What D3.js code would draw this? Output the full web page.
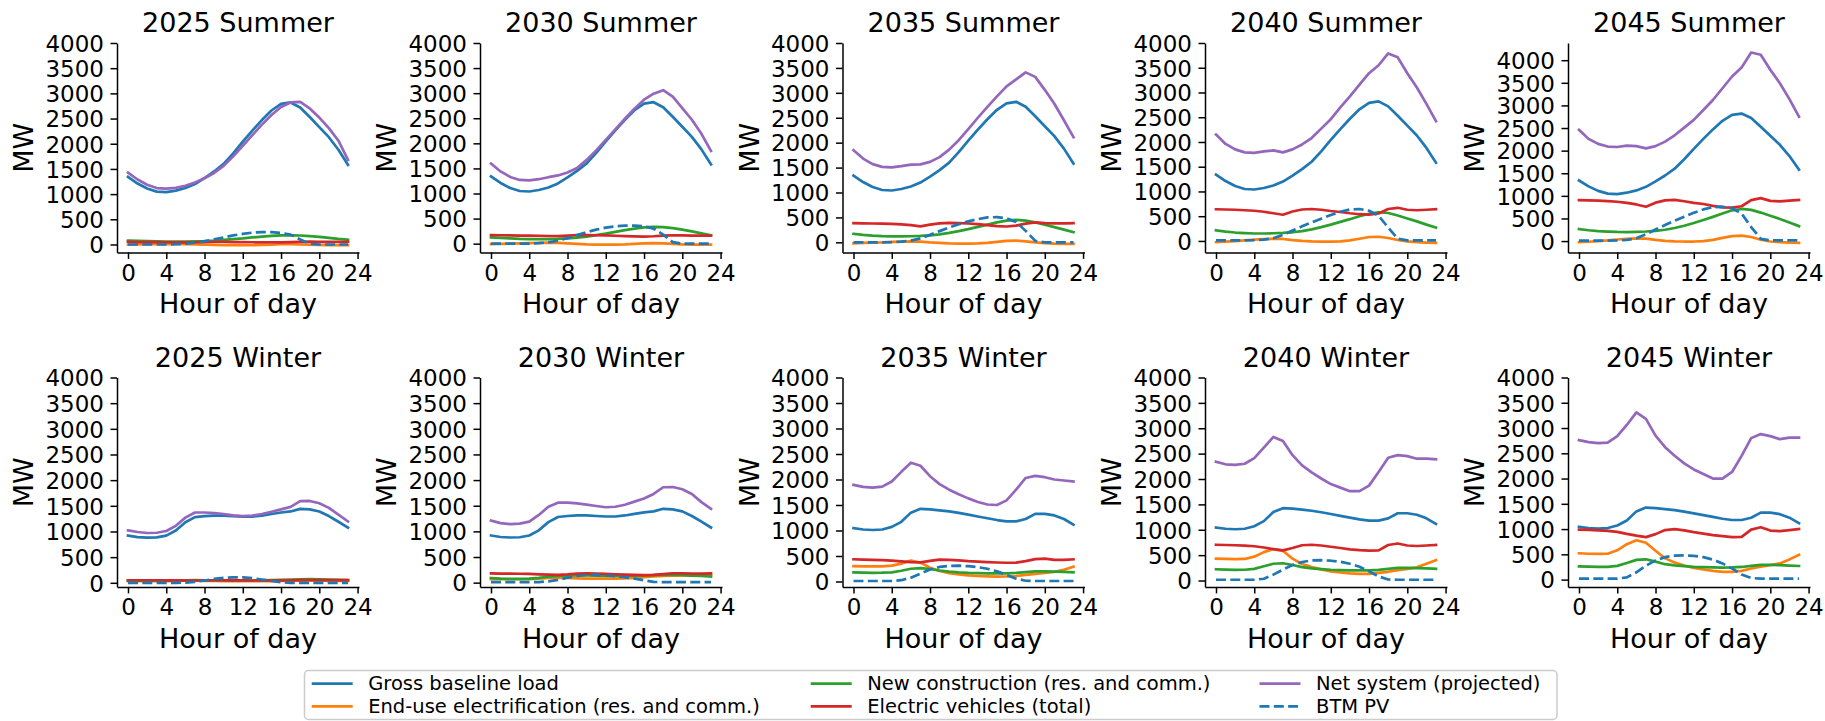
<!DOCTYPE html>
<html>
<head>
<meta charset="utf-8">
<script src="https://cdn.jsdelivr.net/npm/d3@7"></script>
<style>
  html, body { margin: 0; padding: 0; background: #ffffff; }
  svg { display: block; font-family: "DejaVu Sans", sans-serif; }
</style>
</head>
<body>
<svg id="chart" width="1825" height="721"></svg>
<script>
// ---- Data -------------------------------------------------------------
const panelTitles = [
  "2025 Summer", "2030 Summer", "2035 Summer", "2040 Summer", "2045 Summer",
  "2025 Winter", "2030 Winter", "2035 Winter", "2040 Winter", "2045 Winter"
];
const hours = [0,1,2,3,4,5,6,7,8,9,10,11,12,13,14,15,16,17,18,19,20,21,22,23];
const xTicks = [0, 4, 8, 12, 16, 20, 24];
const yTicks = [0, 500, 1000, 1500, 2000, 2500, 3000, 3500, 4000];

const seriesNames = [
  "Gross baseline load",
  "End-use electrification (res. and comm.)",
  "New construction (res. and comm.)",
  "Electric vehicles (total)",
  "Net system (projected)",
  "BTM PV"
];
const seriesColors = ["#1f77b4", "#ff7f0e", "#2ca02c", "#d62728", "#9467bd", "#1f77b4"];
const seriesDashed = [false, false, false, false, false, true];

// Gross baseline load (MW), one row per panel
const summerBaseline = [1340,1210,1110,1050,1040,1070,1120,1200,1320,1450,1600,1810,2040,2260,2470,2660,2790,2820,2720,2530,2330,2130,1880,1580];
const winterBaselineEarly = [920,890,880,885,920,1020,1180,1280,1300,1310,1310,1300,1290,1290,1310,1340,1370,1390,1440,1430,1390,1300,1190,1075];
const winterBaselineLate = [1045,1020,1010,1020,1070,1170,1350,1425,1415,1395,1375,1345,1310,1275,1240,1205,1180,1180,1225,1325,1325,1295,1225,1115];
const grossBaseline = [
  summerBaseline, summerBaseline, summerBaseline, summerBaseline, summerBaseline,
  winterBaselineEarly, winterBaselineEarly, winterBaselineLate, winterBaselineLate, winterBaselineLate
];

// End-use electrification (MW)
const electrification = [
  [-5,0,5,5,5,5,5,0,-5,-10,-15,-15,-15,-15,-10,-5,5,5,0,-5,-10,-12,-15,-15],
  [-10,-5,0,5,10,15,20,15,5,-5,-15,-20,-20,-20,-15,-5,5,10,5,-5,-15,-20,-20,-20],
  [-20,-12,-5,0,10,15,20,15,0,-10,-20,-25,-25,-20,-10,10,30,35,20,0,-15,-25,-30,-30],
  [-25,-15,-5,10,25,35,45,40,15,0,-10,-15,-15,-10,10,45,80,85,60,20,-10,-25,-35,-40],
  [-25,-15,0,15,35,50,60,55,25,5,-5,-10,-10,0,25,70,110,120,90,30,-10,-25,-35,-40],
  [30,30,30,30,32,36,40,40,38,35,32,30,30,30,30,32,35,38,42,42,40,38,38,38],
  [70,68,66,66,70,80,95,100,92,85,80,78,78,80,85,95,108,120,130,138,140,138,140,145],
  [300,298,296,298,310,350,410,370,270,205,165,140,120,108,100,96,98,108,128,150,168,190,230,290],
  [430,425,420,425,470,560,620,585,430,325,265,220,180,158,140,130,132,150,172,205,230,260,330,400],
  [520,512,508,512,580,700,780,730,570,420,340,280,230,200,172,152,152,172,220,258,288,320,400,490]
];

// New construction (MW)
const newConstruction = [
  [75,70,65,60,58,57,58,60,65,75,90,105,120,140,155,170,180,182,178,165,150,130,110,95],
  [125,115,105,95,90,88,90,95,105,120,140,170,200,235,270,300,325,335,330,310,280,245,205,165],
  [170,150,135,125,120,120,122,128,140,160,190,225,265,310,355,400,435,450,435,400,355,305,255,205],
  [215,190,170,158,150,150,155,162,175,200,235,280,330,385,440,500,550,580,565,515,455,395,330,270],
  [265,240,222,210,202,200,205,212,225,250,290,340,400,465,535,610,680,710,690,630,560,490,410,330],
  [40,40,40,40,42,45,50,52,50,48,45,44,44,45,48,52,58,62,68,70,68,62,58,52],
  [90,80,75,75,80,95,115,130,135,140,140,135,130,130,132,135,140,145,150,150,145,138,130,120],
  [180,175,170,172,180,210,250,262,245,215,195,180,170,165,160,158,160,168,182,200,200,195,188,180],
  [222,215,210,212,230,280,330,340,305,265,240,225,212,205,200,198,200,210,230,250,250,245,238,230],
  [262,255,250,252,272,330,390,402,355,305,280,265,252,245,240,238,240,250,272,292,292,285,278,270]
];

// Electric vehicles (MW)
const electricVehicles = [
  [50,48,46,45,44,43,42,40,45,50,50,48,46,44,42,40,42,46,52,55,52,50,50,50],
  [170,168,165,162,160,157,153,150,160,170,172,168,164,158,152,146,142,148,160,168,165,162,162,162],
  [385,382,378,375,370,360,345,320,355,380,390,385,378,365,345,325,318,335,375,400,385,380,382,385],
  [640,635,630,620,610,590,560,530,595,635,645,630,605,585,560,540,530,555,645,670,630,620,630,640],
  [905,900,895,885,870,845,810,760,850,900,910,880,845,820,780,745,740,770,905,950,890,880,895,910],
  [50,50,50,50,48,46,45,45,48,50,50,48,46,45,45,45,46,48,52,55,54,52,52,52],
  [180,178,176,174,170,163,155,150,160,175,180,175,170,162,155,150,148,150,165,180,180,178,178,180],
  [435,430,425,420,410,395,380,375,405,430,425,415,400,390,380,372,368,370,400,440,450,425,425,435],
  [705,700,695,688,675,650,620,595,640,695,705,690,665,640,615,600,590,595,700,730,690,680,690,700],
  [990,985,975,965,945,905,870,840,900,980,1000,975,940,910,880,860,840,845,990,1035,970,960,980,1000]
];

// Net system load (MW)
const netSystem = [
  [1425,1290,1185,1120,1110,1125,1165,1230,1315,1420,1560,1750,1960,2170,2380,2570,2730,2820,2830,2700,2520,2310,2060,1680],
  [1595,1440,1330,1270,1260,1285,1325,1360,1420,1510,1670,1860,2070,2280,2490,2690,2870,2990,3060,2930,2700,2470,2190,1850],
  [1850,1680,1570,1515,1505,1530,1560,1565,1615,1710,1860,2050,2270,2500,2720,2930,3130,3270,3410,3320,3060,2780,2450,2110],
  [2150,1960,1850,1790,1780,1810,1830,1790,1850,1950,2080,2270,2460,2700,2920,3160,3390,3550,3790,3710,3390,3100,2770,2420],
  [2460,2260,2150,2090,2080,2110,2100,2050,2100,2200,2340,2510,2680,2900,3120,3380,3640,3840,4170,4120,3790,3490,3140,2750],
  [1020,990,970,975,1010,1110,1270,1370,1370,1360,1340,1315,1300,1310,1340,1385,1430,1480,1590,1595,1550,1460,1330,1195],
  [1210,1160,1140,1150,1190,1320,1480,1560,1560,1545,1520,1495,1470,1480,1520,1580,1640,1730,1860,1865,1820,1730,1570,1440],
  [1895,1855,1840,1860,1960,2150,2330,2270,2065,1910,1800,1710,1630,1560,1510,1500,1590,1800,2030,2070,2045,2000,1980,1960],
  [2340,2290,2280,2300,2410,2620,2830,2750,2470,2270,2130,2010,1900,1830,1760,1760,1870,2140,2420,2470,2450,2400,2400,2390],
  [2760,2720,2700,2710,2840,3060,3310,3180,2850,2620,2450,2300,2180,2090,2000,2000,2130,2450,2800,2880,2840,2780,2810,2810]
];

// Behind-the-meter PV (MW)
const btmPV = [
  [0,0,0,0,0,5,15,35,65,100,140,180,210,235,245,245,230,195,100,15,0,0,0,0],
  [0,0,0,0,0,10,25,60,110,170,230,280,320,345,360,360,345,300,180,30,0,0,0,0],
  [0,0,0,0,5,15,35,80,150,225,300,365,420,465,500,505,480,410,230,30,0,0,0,0],
  [10,10,10,10,15,25,55,125,210,295,375,450,525,590,635,645,610,510,270,45,10,10,10,10],
  [10,10,10,10,15,25,60,150,255,355,450,540,625,700,750,760,725,610,310,50,15,15,15,15],
  [0,0,0,0,0,0,5,20,45,75,95,105,105,90,65,35,10,0,0,0,0,0,0,0],
  [10,10,10,10,10,12,25,55,95,130,150,150,140,125,105,80,45,15,10,10,10,10,10,10],
  [10,10,10,10,10,25,75,155,235,285,305,310,300,280,250,200,130,55,15,10,10,10,10,10],
  [15,15,15,15,15,35,115,215,305,365,395,400,390,370,330,270,180,80,20,15,15,15,15,15],
  [20,20,20,20,20,45,145,275,380,445,475,480,470,445,395,320,220,100,30,20,20,20,20,20]
];

const seriesValues = [grossBaseline, electrification, newConstruction, electricVehicles, netSystem, btmPV];

// ---- Layout ----------------------------------------------------------
const colLeft = [117, 480, 842.5, 1205, 1568];
const rowTop = [43, 377.5];
const panelW = 242;
const panelH = 209.4;
const lineW = 2.7;

const svg = d3.select("#chart");

panelTitles.forEach((title, p) => {
  const col = p % 5, row = Math.floor(p / 5);
  const g = svg.append("g")
    .attr("transform", `translate(${colLeft[col]},${rowTop[row]})`);

  const x = d3.scaleLinear().domain([-1.15, 24.15]).range([0, panelW]);

  // y range: data extent with 5% margins, top never below 4000
  const allVals = seriesValues.flatMap(s => s[p]);
  const lo = d3.min(allVals), hi = d3.max(allVals);
  const pad = 0.05 * (hi - lo);
  const y = d3.scaleLinear()
    .domain([lo - pad, Math.max(4000, hi + pad)])
    .range([panelH, 0]);

  const line = d3.line()
    .x((d, i) => x(hours[i]))
    .y(d => y(d));

  seriesValues.forEach((s, k) => {
    g.append("path")
      .datum(s[p])
      .attr("d", line)
      .attr("fill", "none")
      .attr("stroke", seriesColors[k])
      .attr("stroke-width", lineW)
      .attr("stroke-linejoin", "round")
      .attr("stroke-linecap", seriesDashed[k] ? "butt" : "square")
      .attr("stroke-dasharray", seriesDashed[k] ? `${3.7 * lineW},${1.6 * lineW}` : null);
  });

  // axes (left and bottom spines only)
  const xAxis = d3.axisBottom(x).tickValues(xTicks).tickFormat(d3.format("d"))
    .tickSize(6.5).tickSizeOuter(0).tickPadding(5.5);
  const yAxis = d3.axisLeft(y).tickValues(yTicks).tickFormat(d3.format("d"))
    .tickSize(6.5).tickSizeOuter(0).tickPadding(6.5);

  const gx = g.append("g").attr("transform", `translate(0,${panelH})`).call(xAxis);
  const gy = g.append("g").call(yAxis);

  [gx, gy].forEach(a => {
    a.attr("font-family", "DejaVu Sans, sans-serif").attr("font-size", 23);
    a.select(".domain").attr("stroke", "#000").attr("stroke-width", 1.5);
    a.selectAll(".tick line").attr("stroke", "#000").attr("stroke-width", 1.5);
    a.selectAll(".tick text").attr("fill", "#000");
  });
  gy.selectAll(".tick text").attr("dy", "0.36em");

  // titles and axis labels
  g.append("text")
    .attr("x", panelW / 2).attr("y", -10.7)
    .attr("text-anchor", "middle")
    .attr("font-size", 27).attr("fill", "#000")
    .text(title);

  g.append("text")
    .attr("x", panelW / 2).attr("y", panelH + 61)
    .attr("text-anchor", "middle")
    .attr("font-size", 27).attr("fill", "#000")
    .text("Hour of day");

  g.append("text")
    .attr("transform", `translate(-84,${panelH / 2}) rotate(-90)`)
    .attr("text-anchor", "middle")
    .attr("font-size", 27).attr("fill", "#000")
    .text("MW");
});

// ---- Legend ------------------------------------------------------------
const legend = svg.append("g");
legend.append("rect")
  .attr("x", 304.5).attr("y", 670.5)
  .attr("width", 1252.5).attr("height", 49)
  .attr("rx", 4).attr("ry", 4)
  .attr("fill", "#fff").attr("fill-opacity", 0.8)
  .attr("stroke", "#cccccc").attr("stroke-width", 1.5);

const legendColX = [311.7, 810.7, 1259.5];
const legendRowBase = [690, 712.7];
seriesNames.forEach((name, k) => {
  const cx = legendColX[Math.floor(k / 2)];
  const base = legendRowBase[k % 2];
  legend.append("line")
    .attr("x1", cx).attr("x2", cx + 41)
    .attr("y1", base - 6.3).attr("y2", base - 6.3)
    .attr("stroke", seriesColors[k])
    .attr("stroke-width", lineW)
    .attr("stroke-dasharray", seriesDashed[k] ? `${3.7 * lineW},${1.6 * lineW}` : null);
  legend.append("text")
    .attr("x", cx + 56.5).attr("y", base)
    .attr("font-size", 19.5).attr("fill", "#000")
    .text(name);
});
</script>
</body>
</html>
